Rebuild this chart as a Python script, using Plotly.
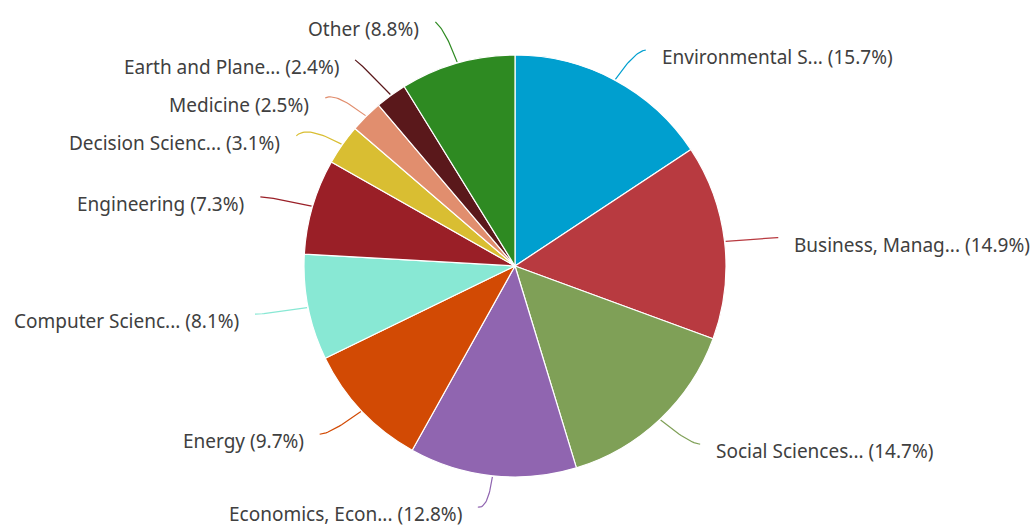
import math
import plotly.graph_objects as go

# ---- data ----
categories = ["Environmental S...", "Business, Manag...", "Social Sciences...",
              "Economics, Econ...", "Energy", "Computer Scienc...", "Engineering",
              "Decision Scienc...", "Medicine", "Earth and Plane...", "Other"]
shares = [15.7, 14.9, 14.7, 12.8, 9.7, 8.1, 7.3, 3.1, 2.5, 2.4, 8.8]
colors = ["#009fcf", "#b83a40", "#7fa057", "#9065b0", "#d24a04", "#88e8d4",
          "#9a1f27", "#d9be32", "#e18e6e", "#5a181b", "#2e8a22"]

# ---- layout constants (pixels) ----
W, H = 1035, 527
CX, CY, R = 515, 266, 211
RX_LAB, RY_LAB = 255, 245
GAP = 38
TEXT_COLOR = "#404040"
FONT = "Noto Sans"
Y_MAX = H - 13

total = sum(shares)
mid_angles = []
acc = 0.0
for v in shares:
    mid_angles.append((acc + v / 2) / total * 2 * math.pi)
    acc += v


def spread(ys, gap):
    order = sorted(range(len(ys)), key=lambda i: ys[i])
    clusters = [[i] for i in order]

    def start(cl):
        m = sum(ys[i] for i in cl) / len(cl)
        return m - gap * (len(cl) - 1) / 2

    merged = True
    while merged:
        merged = False
        for k in range(len(clusters) - 1):
            a, b = clusters[k], clusters[k + 1]
            end_a = start(a) + gap * (len(a) - 1)
            if start(b) - end_a < gap:
                clusters[k] = a + b
                del clusters[k + 1]
                merged = True
                break
    out = [0.0] * len(ys)
    for cl in clusters:
        s = start(cl)
        for j, i in enumerate(cl):
            out[i] = s + j * gap
    return out


# ideal anchor points
cxs, cys, sides = [], [], []
for a in mid_angles:
    cxs.append(CX + RX_LAB * math.sin(a))
    cys.append(CY - RY_LAB * math.cos(a))
    sides.append(1 if a < math.pi else -1)

label_y = [0.0] * len(shares)
for side in (1, -1):
    idx = [i for i in range(len(shares)) if sides[i] == side]
    ys = [cys[i] + 7 for i in idx]
    sp = spread(ys, GAP)
    for i, y in zip(idx, sp):
        label_y[i] = min(y, Y_MAX)

fig = go.Figure()
fig.add_trace(go.Pie(
    labels=categories, values=shares, sort=False, direction="clockwise",
    rotation=0, textinfo="none", hoverinfo="label+percent",
    marker=dict(colors=colors, line=dict(color="white", width=1.2)),
    domain=dict(x=[(CX - R) / W, (CX + R) / W],
                y=[(H - CY - R) / H, (H - CY + R) / H]),
    showlegend=False,
))

annotations = []
for i, a in enumerate(mid_angles):
    s = sides[i]
    p0 = (CX + (R + 1) * math.sin(a), CY - (R + 1) * math.cos(a))
    p1 = (cxs[i], cys[i])
    p2 = (cxs[i] + 10 * s, label_y[i] - 7)
    xs, ys = [], []
    for k in range(21):
        t = k / 20
        xs.append((1 - t) ** 2 * p0[0] + 2 * (1 - t) * t * p1[0] + t ** 2 * p2[0])
        ys.append((1 - t) ** 2 * p0[1] + 2 * (1 - t) * t * p1[1] + t ** 2 * p2[1])
    fig.add_trace(go.Scatter(x=xs, y=ys, mode="lines",
                             line=dict(color=colors[i], width=1.2),
                             hoverinfo="skip", showlegend=False))
    annotations.append(dict(
        x=cxs[i] + 24 * s, y=label_y[i], xref="x", yref="y",
        text=f"{categories[i]} ({shares[i]:.1f}%)", showarrow=False,
        xanchor="left" if s > 0 else "right", yanchor="middle",
        font=dict(family=FONT, size=19, color=TEXT_COLOR)))

fig.update_layout(
    width=W, height=H, autosize=False,
    margin=dict(l=0, r=0, t=0, b=0),
    paper_bgcolor="white", plot_bgcolor="white",
    xaxis=dict(range=[0, W], visible=False, fixedrange=True),
    yaxis=dict(range=[H, 0], visible=False, fixedrange=True),
    annotations=annotations,
)

fig.write_html("out.html", config={"displayModeBar": False},
               post_script="document.body.style.margin='0';document.body.style.overflow='hidden';")
